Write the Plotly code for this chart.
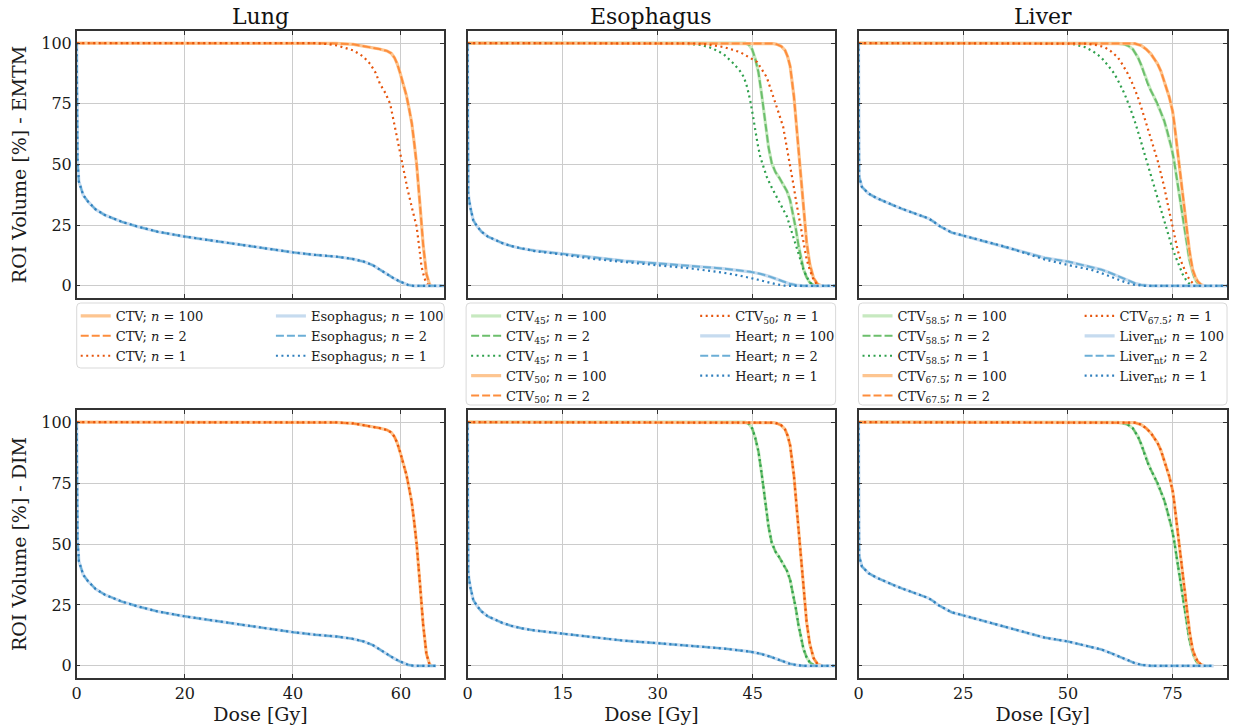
import plotly.graph_objects as go

# ---------------- data (dose in Gy, ROI volume in %) ----------------
# Lung
lung_ctv_dose = [0, 45, 48, 51.2, 54.3, 56.0, 57.4, 58.2, 58.8, 59.3, 59.8, 60.4, 61.0, 61.5, 62.0, 62.5, 62.9, 63.5, 64.1, 64.7, 65.3, 65.8]
lung_ctv_vol = [100, 100, 99.9, 99.5, 98.4, 97.6, 96.8, 95.8, 94.0, 91.5, 88, 83.5, 78.5, 73, 67, 58, 50, 34, 17, 5, 0.5, 0]
lung_ctv_n1_dose = [0, 44, 46.5, 48.2, 51.2, 53, 54.3, 55.3, 56.1, 57.1, 58, 59.1, 60.2, 61.2, 62.1, 62.9, 63.4, 63.8, 64.3, 64.7, 65.1]
lung_ctv_n1_vol = [100, 100, 99.6, 99, 97, 94.5, 91.5, 87.8, 83.3, 79.5, 75, 63, 50, 40, 31.5, 24.4, 15.5, 8, 3.5, 1, 0]
lung_eso_dose = [0, 0.05, 0.15, 0.4, 1.2, 2.1, 3.5, 5.2, 8.3, 11.3, 15, 20, 25, 29.8, 35, 40, 44, 48.2, 51, 53.1, 54.8, 56.1, 57.4, 58.6, 59.6, 60.4, 61.3, 62.3, 68]
lung_eso_vol = [100, 70, 52, 43, 37.4, 34.7, 31.5, 29.2, 26.4, 24.4, 22.3, 20.3, 18.6, 17.1, 15.4, 13.8, 12.8, 12, 11.1, 10, 8.5, 6.6, 5, 3.2, 2, 1.1, 0.4, 0, 0]
lung_eso_n1_dose = lung_eso_dose
lung_eso_n1_vol = [100, 70, 52, 43, 37.4, 34.7, 31.5, 29.2, 26.4, 24.4, 22.3, 20.3, 18.6, 17.1, 15.4, 13.8, 12.8, 12, 11.1, 10, 8.5, 6.6, 5, 3.2, 2, 1.1, 0.4, 0, 0]
lung_eso_dim_dose = [0, 0.05, 0.15, 0.4, 1.2, 2.1, 3.5, 5.2, 8.3, 11.3, 15, 20, 25, 29.8, 35, 40, 44, 48.2, 51, 53.1, 54.8, 56.1, 57.4, 58.6, 59.6, 60.4, 61.3, 62.3, 66.5]
lung_eso_dim_vol = lung_eso_vol

# Esophagus
ctv45_dose = [0, 43.8, 44.4, 44.9, 45.4, 45.9, 46.4, 47.0, 47.5, 48.0, 48.6, 49.2, 49.8, 50.4, 50.9, 51.4, 51.8, 52.2, 52.6, 53.0, 53.5, 54.0, 54.6, 55.2]
ctv45_vol = [100, 100, 99.3, 97.5, 93.5, 88, 79, 66, 57, 50.5, 46.8, 44.5, 42, 39, 35.3, 29, 23.5, 17, 11.5, 7, 3.5, 1.4, 0.3, 0]
ctv45_n1_dose = [0, 32, 34.1, 36.8, 38.5, 40.4, 42, 43, 43.6, 44.1, 44.6, 45.0, 45.4, 45.8, 46.2, 46.7, 47.2, 48.0, 48.8, 49.6, 50.4, 51.0, 51.4, 52.0, 52.5, 53.0, 53.5, 54.0, 54.6]
ctv45_n1_vol = [100, 100, 99.8, 99.3, 98, 95.5, 91.5, 88.5, 86, 82, 76.4, 70.5, 64, 58, 53, 48.5, 45, 40.5, 36.7, 32.5, 28.5, 23.5, 20.3, 15, 10.7, 6.8, 3.8, 1.5, 0]
ctv50_dose = [0, 47.5, 48.3, 48.8, 49.5, 50.1, 50.5, 50.9, 51.2, 51.5, 51.9, 52.2, 52.5, 52.8, 53.0, 53.5, 54.0, 54.6, 55.2, 55.9]
ctv50_vol = [100, 100, 99.8, 99.5, 98.7, 97, 94.5, 90.5, 85, 78, 66, 57, 47.5, 38, 31, 18, 9, 3.2, 0.8, 0]
ctv50_n1_dose = [0, 33, 35.2, 37.8, 40.4, 43, 45.7, 47.2, 48.3, 49.0, 49.8, 50.4, 50.9, 51.4, 51.9, 52.5, 53.0, 53.5, 54.0, 54.6, 55.3]
ctv50_n1_vol = [100, 100, 99.9, 99.5, 98.4, 96.3, 92.2, 86, 77.8, 72, 65.5, 57, 50.4, 42, 34, 25, 17.5, 11, 6.6, 2.5, 0]
heart_dose = [0, 0.02, 0.1, 0.4, 0.9, 1.5, 2.2, 3.2, 4.3, 5.5, 6.9, 8.5, 10.6, 15, 19.5, 24.7, 29.9, 35.2, 40.4, 44.6, 46.3, 47.7, 48.8, 49.8, 50.8, 51.9, 53, 58]
heart_vol = [100, 45, 38, 32.6, 27, 24.5, 22.3, 20.3, 18.9, 17.6, 16.4, 15.4, 14.5, 13.2, 11.6, 10.3, 9.3, 8.2, 7.1, 5.8, 4.9, 3.8, 2.8, 1.8, 0.9, 0.3, 0, 0]
heart_n1_dose = [0, 0.02, 0.1, 0.4, 0.9, 1.5, 2.2, 3.2, 4.3, 5.5, 6.9, 8.5, 10.6, 15, 19.5, 24.7, 29.9, 35.2, 40.4, 43, 45.7, 47.3, 48.8, 50, 51, 58]
heart_n1_vol = [100, 45, 38, 32.6, 27, 24.5, 22.3, 20.3, 18.9, 17.6, 16.4, 15.4, 14.3, 12.9, 11.2, 9.8, 8.6, 7.2, 5.4, 4.2, 2.6, 1.5, 0.6, 0.1, 0, 0]

# Liver
ctv585_dose = [0, 60, 62, 63.5, 64.5, 65.5, 66.7, 67.5, 68.3, 69.0, 69.8, 70.6, 71.4, 72.2, 73.0, 73.6, 74.2, 74.8, 75.4, 76.0, 76.6, 77.2, 77.8, 78.4, 79.0, 79.6, 80.2, 80.8, 81.5, 82.5]
ctv585_vol = [100, 100, 99.9, 99.5, 98.8, 97.5, 94.2, 91, 87, 83.5, 80.5, 77.8, 75, 71.5, 68, 64.5, 61, 56.5, 51, 44, 37, 30, 23, 16.5, 11, 6.8, 3.5, 1.5, 0.4, 0]
ctv585_n1_dose = [0, 46, 49.2, 51.5, 54, 56, 57.9, 59.5, 61.1, 62.3, 63.5, 64.7, 65.9, 67.1, 68.3, 69.5, 70.6, 71.6, 72.6, 73.6, 74.6, 75.6, 76.6, 77.4, 78.2, 78.8, 79.4]
ctv585_n1_vol = [100, 100, 99.9, 99.5, 98.4, 96.6, 94.2, 91, 87.4, 83.5, 79.2, 74, 68.2, 61.5, 54.5, 47.5, 40.8, 34.5, 28.5, 22.8, 17.5, 12.5, 8, 4.8, 2.5, 1, 0]
ctv675_dose = [0, 64.5, 66, 67.5, 68.7, 69.8, 70.6, 71.4, 72.2, 73.0, 73.6, 74.2, 74.6, 75.0, 75.4, 75.8, 76.2, 76.6, 77.0, 77.4, 77.8, 78.2, 78.6, 79.0, 79.4, 79.8, 80.4, 81.0, 81.8, 82.6]
ctv675_vol = [100, 100, 99.8, 99, 97.5, 95.6, 93.7, 91.5, 88.5, 84.6, 81, 77.8, 75, 72, 67, 61, 56, 50.4, 44.5, 38, 31.5, 25.8, 20, 14.8, 10.5, 6.6, 3.8, 1.8, 0.5, 0]
ctv675_n1_dose = [0, 52, 54, 56.5, 58.7, 60.3, 61.9, 63.1, 64.3, 65.5, 66.7, 67.8, 69.0, 70.2, 71.4, 72.2, 73.0, 73.8, 74.6, 75.4, 76.2, 77.0, 77.8, 78.6, 79.4, 80.6]
ctv675_n1_vol = [100, 100, 99.8, 99.3, 98.4, 96.6, 94.2, 91, 87.4, 83, 77.8, 72, 65.5, 58.5, 51.8, 46.3, 40.8, 34, 27.1, 20.5, 14.8, 10.2, 6.6, 3.8, 1.8, 0]
livernt_dose = [0, 0.02, 0.15, 0.8, 2.4, 4.3, 6.3, 8.3, 10.3, 12.3, 14.3, 15.5, 16.7, 17.9, 19, 20.6, 22.2, 25, 30.2, 34.9, 39.7, 44.4, 50, 55.6, 58.0, 60.3, 62.3, 64.3, 66, 67.5, 69.8, 88]
livernt_vol = [100, 55, 45, 40.8, 38, 36.2, 34.6, 33.2, 31.8, 30.5, 29.2, 28.6, 27.8, 26.5, 25, 23.5, 22, 20.7, 18.2, 16.2, 13.7, 11.6, 10, 7.9, 6.7, 5.2, 3.7, 2.2, 1.1, 0.4, 0, 0]
livernt_n1_dose = [0, 0.02, 0.15, 0.8, 2.4, 4.3, 6.3, 8.3, 10.3, 12.3, 14.3, 15.5, 16.7, 17.9, 19, 20.6, 22.2, 25, 30.2, 34.9, 39.7, 44.4, 50, 55.6, 58.7, 61.9, 64, 65.9, 68.3, 88]
livernt_n1_vol = [100, 55, 45, 40.8, 38, 36.2, 34.6, 33.2, 31.8, 30.5, 29.2, 28.6, 27.8, 26.5, 25, 23.5, 22, 20.7, 18.2, 16.2, 13.5, 10.9, 8.6, 6.6, 4.8, 2.7, 1.3, 0.4, 0, 0]
livernt_dim_dose = [0, 0.02, 0.15, 0.8, 2.4, 4.3, 6.3, 8.3, 10.3, 12.3, 14.3, 15.5, 16.7, 17.9, 19, 20.6, 22.2, 25, 30.2, 34.9, 39.7, 44.4, 50, 55.6, 58.0, 60.3, 62.3, 64.3, 66, 67.5, 69.8, 84.8]
livernt_dim_vol = livernt_vol

panel_titles = ["Lung", "Esophagus", "Liver"]
x_ranges = [[0, 68], [0, 58], [0, 88]]
x_ticks = [[0, 20, 40, 60], [0, 15, 30, 45], [0, 25, 50, 75]]
y_ticks = [0, 25, 50, 75, 100]
row_titles = ["ROI Volume [%] - EMTM", "ROI Volume [%] - DIM"]
n_labels = ["<i>n</i> = 100", "<i>n</i> = 2", "<i>n</i> = 1"]

# structure: (label, colour family, n=100 curve, n=2 curve, n=1 curve, DIM curve)
panels = [
    [("CTV", "orange", (lung_ctv_dose, lung_ctv_vol), (lung_ctv_dose, lung_ctv_vol),
      (lung_ctv_n1_dose, lung_ctv_n1_vol), (lung_ctv_dose, lung_ctv_vol)),
     ("Esophagus", "blue", (lung_eso_dose, lung_eso_vol), (lung_eso_dose, lung_eso_vol),
      (lung_eso_n1_dose, lung_eso_n1_vol), (lung_eso_dim_dose, lung_eso_dim_vol))],
    [("CTV<sub>45</sub>", "green", (ctv45_dose, ctv45_vol), (ctv45_dose, ctv45_vol),
      (ctv45_n1_dose, ctv45_n1_vol), (ctv45_dose, ctv45_vol)),
     ("CTV<sub>50</sub>", "orange", (ctv50_dose, ctv50_vol), (ctv50_dose, ctv50_vol),
      (ctv50_n1_dose, ctv50_n1_vol), (ctv50_dose, ctv50_vol)),
     ("Heart", "blue", (heart_dose, heart_vol), (heart_dose, heart_vol),
      (heart_n1_dose, heart_n1_vol), (heart_dose, heart_vol))],
    [("CTV<sub>58.5</sub>", "green", (ctv585_dose, ctv585_vol), (ctv585_dose, ctv585_vol),
      (ctv585_n1_dose, ctv585_n1_vol), (ctv585_dose, ctv585_vol)),
     ("CTV<sub>67.5</sub>", "orange", (ctv675_dose, ctv675_vol), (ctv675_dose, ctv675_vol),
      (ctv675_n1_dose, ctv675_n1_vol), (ctv675_dose, ctv675_vol)),
     ("Liver<sub>nt</sub>", "blue", (livernt_dose, livernt_vol), (livernt_dose, livernt_vol),
      (livernt_n1_dose, livernt_n1_vol), (livernt_dim_dose, livernt_dim_vol))],
]
# number of legend entries in the first legend column of each panel
first_col_count = [3, 5, 5]

# ---------------- styling ----------------
W, H = 1233, 726
FONT = "DejaVu Serif"
PAL = {
    "orange": ["#fdc590", "#fd8d3c", "#e6550d"],
    "blue": ["#c6dbef", "#6baed6", "#2f7fbd"],
    "green": ["#c7e9c0", "#6cbf6c", "#2ea04c"],
}
STYLES = [dict(width=3.2, dash="solid"), dict(width=2, dash="8px,3px"), dict(width=2.2, dash="2px,3.5px")]
COL_PX = [(72, 441), (464.5, 833.5), (857, 1227)]
ROW_PX = [(31, 298), (410, 678)]
LEGEND_BOX = [(72, 303, 441, 368), (463, 303, 834, 405), (857, 303, 1227, 405)]
LEGEND_COLS = [(71, 267), (463, 693), (856, 1079)]


def fx(p):
    return p / W


def fy(p):
    return 1 - p / H


fig = go.Figure()
layout = dict(
    width=W, height=H, margin=dict(l=0, r=0, t=0, b=0),
    paper_bgcolor="white", plot_bgcolor="white",
    font=dict(family=FONT, color="#1a1a1a", size=16),
    showlegend=True,
)

legend_names = []
for c in range(3):
    for k in range(2):
        legend_names.append("legend" if (2 * c + k) == 0 else f"legend{2 * c + k + 1}")

for r in range(2):
    for c in range(3):
        idx = r * 3 + c + 1
        xa = "x" if idx == 1 else f"x{idx}"
        ya = "y" if idx == 1 else f"y{idx}"
        entry = 0
        for (label, fam, c100, c2, c1, cdim) in panels[c]:
            curves = [c100, c2, c1] if r == 0 else [cdim, cdim, cdim]
            for j, (dx, dy) in enumerate(curves):
                leg = legend_names[2 * c + (0 if entry < first_col_count[c] else 1)]
                fig.add_trace(go.Scatter(
                    x=dx, y=dy, mode="lines", xaxis=xa, yaxis=ya,
                    line=dict(color=PAL[fam][j], width=STYLES[j]["width"], dash=STYLES[j]["dash"]),
                    name=f"{label}; {n_labels[j]}",
                    legend=leg, showlegend=(r == 0), hoverinfo="x+y+name",
                ))
                entry += 1
        x0, x1 = COL_PX[c]
        y0, y1 = ROW_PX[r]
        axis_common = dict(
            showgrid=True, gridcolor="#cccccc", gridwidth=1, zeroline=False,
            showline=True, linecolor="#333333", linewidth=1.5, mirror="allticks",
            ticks="inside", ticklen=4, tickwidth=1, tickcolor="#333333",
            tickfont=dict(family=FONT, size=16, color="#1a1a1a"),
        )
        xaxis = dict(axis_common, domain=[fx(x0), fx(x1)], anchor=ya, range=x_ranges[c],
                     tickvals=x_ticks[c], showticklabels=(r == 1))
        if r == 1:
            xaxis["title"] = dict(text="Dose [Gy]", font=dict(family=FONT, size=19, color="#1a1a1a"), standoff=0)
        yaxis = dict(axis_common, domain=[fy(y1), fy(y0)], anchor=xa, range=[-5, 105],
                     tickvals=y_ticks, showticklabels=(c == 0))
        if c == 0:
            yaxis["title"] = dict(text=row_titles[r], font=dict(family=FONT, size=19, color="#1a1a1a"), standoff=10)
        layout["xaxis" if idx == 1 else f"xaxis{idx}"] = xaxis
        layout["yaxis" if idx == 1 else f"yaxis{idx}"] = yaxis

# legends
for c in range(3):
    for k in range(2):
        name = legend_names[2 * c + k]
        layout[name] = dict(
            x=fx(LEGEND_COLS[c][k]), y=fy(301), xanchor="left", yanchor="top",
            bgcolor="rgba(0,0,0,0)", borderwidth=0, orientation="v",
            font=dict(family=FONT, size=13, color="#1a1a1a"), tracegroupgap=0,
            itemwidth=30,
        )

# legend frames (rounded rectangles) and panel titles
shapes = []
rad = 4
for (bx0, by0, bx1, by1) in LEGEND_BOX:
    rx, ry = rad / W, rad / H
    X0, X1, Y0, Y1 = fx(bx0), fx(bx1), fy(by1), fy(by0)
    path = (f"M{X0 + rx},{Y0} L{X1 - rx},{Y0} Q{X1},{Y0} {X1},{Y0 + ry} "
            f"L{X1},{Y1 - ry} Q{X1},{Y1} {X1 - rx},{Y1} L{X0 + rx},{Y1} "
            f"Q{X0},{Y1} {X0},{Y1 - ry} L{X0},{Y0 + ry} Q{X0},{Y0} {X0 + rx},{Y0} Z")
    shapes.append(dict(type="path", path=path, xref="paper", yref="paper",
                       line=dict(color="#d9d9d9", width=1), fillcolor="white", layer="below"))
layout["shapes"] = shapes

annotations = []
for c in range(3):
    x0, x1 = COL_PX[c]
    annotations.append(dict(text=panel_titles[c], x=fx((x0 + x1) / 2), y=fy(17), xref="paper", yref="paper",
                            xanchor="center", yanchor="middle", showarrow=False,
                            font=dict(family=FONT, size=22, color="#111111")))
layout["annotations"] = annotations

fig.update_layout(**layout)
fig.write_html("out.html", config={"displayModeBar": False},
               post_script="document.body.style.margin='0';document.body.style.overflow='hidden';")
